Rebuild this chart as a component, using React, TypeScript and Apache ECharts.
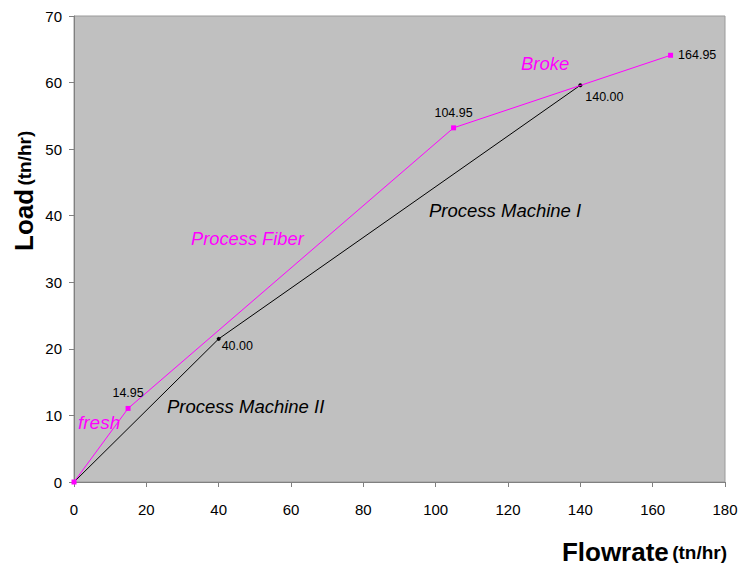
import React, { useEffect, useRef } from "react";
import * as echarts from "echarts";

const fiberX = [0, 14.95, 104.95, 164.95];
const fiberY = [0, 11.05, 53.2, 64.1];
const machineX = [0, 40, 140];
const machineY = [0, 21.5, 59.6];
const xTicks = { min: 0, max: 180, interval: 20 };
const yTicks = { min: 0, max: 70, interval: 10 };

const FONT = "Liberation Sans, Arial, sans-serif";

export default function App() {
  const ref = useRef<HTMLDivElement>(null);
  useEffect(() => {
    const chart = echarts.init(ref.current!, null, { renderer: "svg" });
    const fiberData = fiberX.map((x, i) => [x, fiberY[i]]);
    const machineData = machineX.map((x, i) => [x, machineY[i]]);
    const fiberLabelPos: any[] = [
      { show: false },
      { show: true, position: "top", distance: 6 },
      { show: true, position: "top", distance: 6 },
      { show: true, position: "right", distance: 5 },
    ];
    const machineLabelPos: any[] = [
      { show: false },
      { show: true, position: "right", offset: [-1, 7], distance: 2 },
      { show: true, position: "bottom", offset: [24, 0], distance: 3 },
    ];
    const labelFmt = (p: any) => Number(p.value[0]).toFixed(2);
    const rich = {
      a: { fontSize: 26, fontWeight: "bold", fill: "#000", color: "#000", fontFamily: FONT },
      b: { fontSize: 19, fontWeight: "bold", fill: "#000", color: "#000", fontFamily: FONT },
    };
    chart.setOption({
      animation: false,
      backgroundColor: "#ffffff",
      textStyle: { fontFamily: FONT },
      grid: {
        left: 74,
        top: 16,
        right: 14,
        bottom: 87,
        outerBoundsMode: "none",
        containLabel: false,
        show: true,
        backgroundColor: "#C0C0C0",
        borderColor: "#9a9a9a",
        borderWidth: 1,
      },
      xAxis: {
        type: "value",
        ...xTicks,
        axisLine: { show: true, lineStyle: { color: "#808080", width: 1 } },
        axisTick: { show: true, inside: false, length: 5, lineStyle: { color: "#808080" } },
        splitLine: { show: false },
        axisLabel: { color: "#000", fontSize: 15, fontFamily: FONT, margin: 20 },
      },
      yAxis: {
        type: "value",
        ...yTicks,
        axisLine: { show: true, lineStyle: { color: "#808080", width: 1 } },
        axisTick: { show: true, inside: false, length: 5, lineStyle: { color: "#808080" } },
        splitLine: { show: false },
        axisLabel: { color: "#000", fontSize: 15, fontFamily: FONT, margin: 12 },
      },
      graphic: [
        {
          type: "text",
          x: 727,
          y: 552,
          style: { text: "{a|Flowrate} {b|(tn/hr)}", rich, align: "right", verticalAlign: "middle" },
        },
        {
          type: "text",
          x: 24,
          y: 251,
          rotation: Math.PI / 2,
          style: { text: "{a|Load} {b|(tn/hr)}", rich, align: "left", verticalAlign: "middle" },
        },
        { type: "text", left: 78, top: 413, style: { text: "fresh", fill: "#FF00FF", font: "italic 19px " + FONT } },
        { type: "text", left: 191, top: 229, style: { text: "Process Fiber", fill: "#FF00FF", font: "italic 18.3px " + FONT } },
        { type: "text", left: 521, top: 54, style: { text: "Broke", fill: "#FF00FF", font: "italic 18.5px " + FONT } },
        { type: "text", left: 429, top: 201, style: { text: "Process Machine I", fill: "#000", font: "italic 18.5px " + FONT } },
        { type: "text", left: 167, top: 397, style: { text: "Process Machine II", fill: "#000", font: "italic 18.5px " + FONT } },
      ],
      series: [
        {
          type: "line",
          data: machineData.map((d, i) => ({ value: d, label: machineLabelPos[i] })),
          lineStyle: { color: "#000", width: 1 },
          itemStyle: { color: "#000" },
          symbol: "circle",
          symbolSize: 4,
          label: { fontSize: 12.5, color: "#000", fontFamily: FONT, formatter: labelFmt },
          z: 2,
        },
        {
          type: "line",
          data: fiberData.map((d, i) => ({ value: d, label: fiberLabelPos[i] })),
          lineStyle: { color: "#FF00FF", width: 1 },
          itemStyle: { color: "#FF00FF" },
          symbol: "rect",
          symbolSize: 5,
          label: { fontSize: 12.5, color: "#000", fontFamily: FONT, formatter: labelFmt },
          z: 3,
        },
      ],
    });
    return () => chart.dispose();
  }, []);
  return <div ref={ref} style={{ width: 739, height: 569, position: "fixed", left: 0, top: 0 }} />;
}
